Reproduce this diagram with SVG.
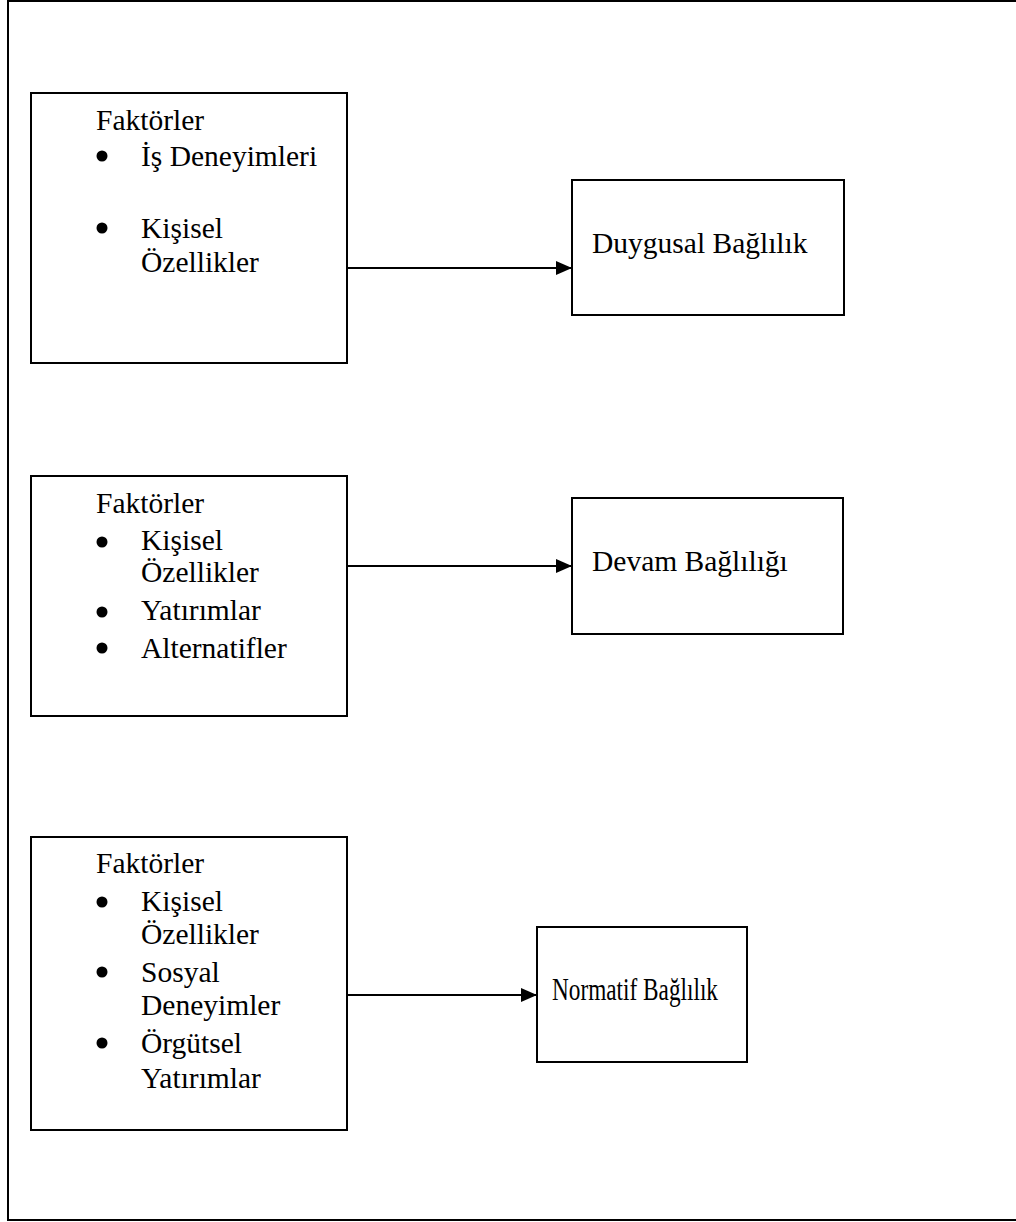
<svg xmlns="http://www.w3.org/2000/svg" width="1016" height="1222" viewBox="0 0 1016 1222">
  <style>
    .box { fill: #ffffff; stroke: #000000; stroke-width: 2; }
    .frame { fill: none; stroke: #000000; stroke-width: 2; }
    .link { fill: none; stroke: #000000; stroke-width: 2; }
    .t { font-family: "Liberation Serif", "Times New Roman", serif; font-size: 29.5px; fill: #000000; }
    .dot { fill: #000000; }
  </style>
  <defs>
    <marker id="arrow" markerUnits="userSpaceOnUse" markerWidth="17" markerHeight="17" viewBox="0 0 17 17" refX="16" refY="8.5" orient="auto">
      <path d="M0,1.5 L16,8.5 L0,15.5 Z" fill="#000000"/>
    </marker>
  </defs>

  <rect width="1016" height="1222" fill="#ffffff"/>

  <!-- outer frame (right side runs past the page edge) -->
  <rect class="frame" x="8" y="1" width="1040" height="1219"/>

  <!-- factor boxes -->
  <g id="factors-affective">
    <rect class="box" x="31" y="93" width="316" height="270"/>
    <text class="t" x="96" y="130">Faktörler</text>
    <circle class="dot" cx="102" cy="156" r="5.5"/>
    <text class="t" x="141" y="166">İş Deneyimleri</text>
    <circle class="dot" cx="102" cy="228" r="5.5"/>
    <text class="t" x="141" y="238">Kişisel</text>
    <text class="t" x="141" y="272">Özellikler</text>
  </g>

  <g id="factors-continuance">
    <rect class="box" x="31" y="476" width="316" height="240"/>
    <text class="t" x="96" y="513">Faktörler</text>
    <circle class="dot" cx="102" cy="542" r="5.5"/>
    <text class="t" x="141" y="550">Kişisel</text>
    <text class="t" x="141" y="582">Özellikler</text>
    <circle class="dot" cx="102" cy="612" r="5.5"/>
    <text class="t" x="141" y="620">Yatırımlar</text>
    <circle class="dot" cx="102" cy="648" r="5.5"/>
    <text class="t" x="141" y="658">Alternatifler</text>
  </g>

  <g id="factors-normative">
    <rect class="box" x="31" y="837" width="316" height="293"/>
    <text class="t" x="96" y="873">Faktörler</text>
    <circle class="dot" cx="102" cy="902" r="5.5"/>
    <text class="t" x="141" y="911">Kişisel</text>
    <text class="t" x="141" y="944">Özellikler</text>
    <circle class="dot" cx="102" cy="972" r="5.5"/>
    <text class="t" x="141" y="982">Sosyal</text>
    <text class="t" x="141" y="1015">Deneyimler</text>
    <circle class="dot" cx="102" cy="1043" r="5.5"/>
    <text class="t" x="141" y="1053">Örgütsel</text>
    <text class="t" x="141" y="1088">Yatırımlar</text>
  </g>

  <!-- commitment boxes -->
  <g id="affective">
    <rect class="box" x="572" y="180" width="272" height="135"/>
    <text class="t" x="592" y="253">Duygusal Bağlılık</text>
  </g>

  <g id="continuance">
    <rect class="box" x="572" y="498" width="271" height="136"/>
    <text class="t" x="592" y="571">Devam Bağlılığı</text>
  </g>

  <g id="normative">
    <rect class="box" x="537" y="927" width="210" height="135"/>
    <text class="t" x="552" y="1000" style="font-size:31px" textLength="166" lengthAdjust="spacingAndGlyphs">Normatif Bağlılık</text>
  </g>

  <!-- connectors -->
  <g id="connectors">
    <line class="link" x1="348" y1="268" x2="572" y2="268" marker-end="url(#arrow)"/>
    <line class="link" x1="348" y1="566" x2="572" y2="566" marker-end="url(#arrow)"/>
    <line class="link" x1="348" y1="995" x2="537" y2="995" marker-end="url(#arrow)"/>
  </g>
</svg>
